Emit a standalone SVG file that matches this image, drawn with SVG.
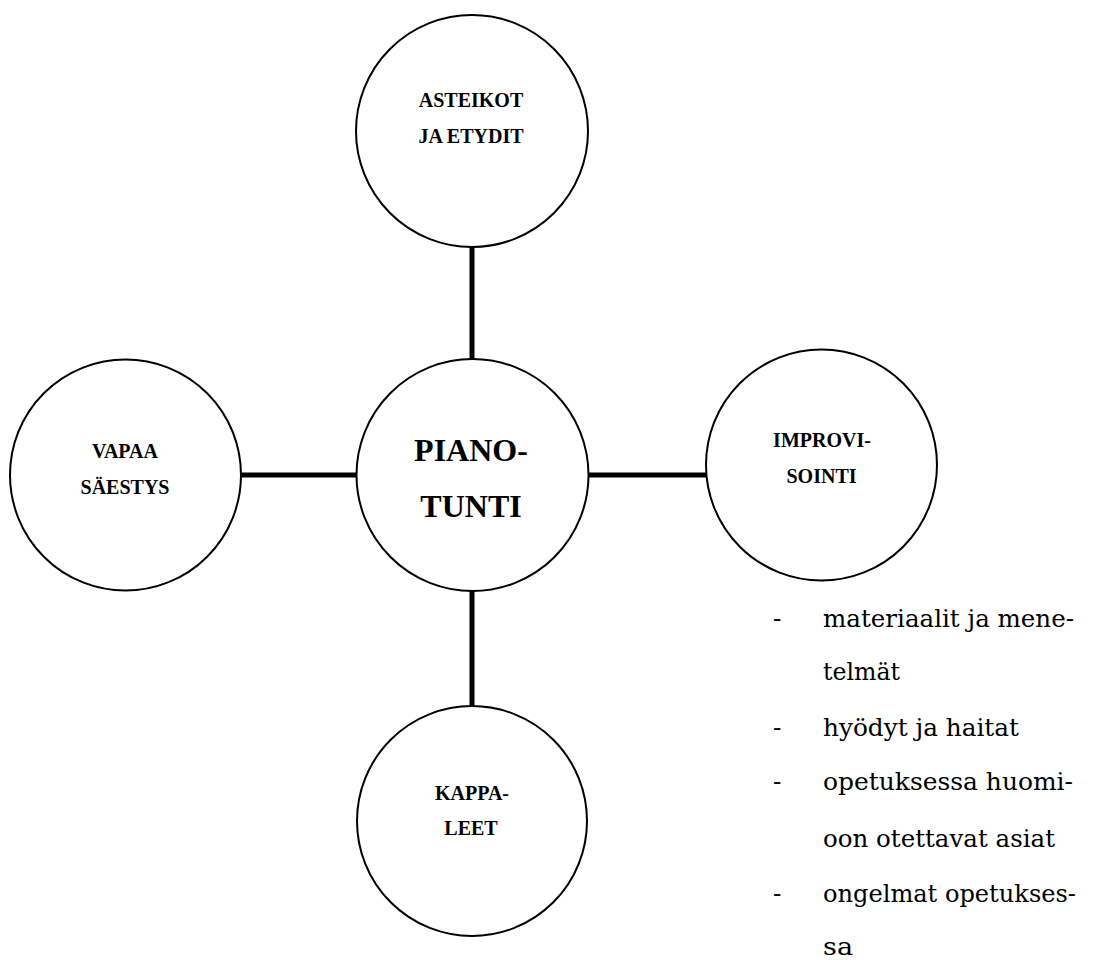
<svg xmlns="http://www.w3.org/2000/svg" width="1096" height="960" viewBox="0 0 1096 960">
<style>
.c{fill:#fff;stroke:#000;stroke-width:2}
.l{font-family:'Liberation Serif',serif;font-weight:bold;font-size:20px;text-anchor:middle;fill:#000}
.big{font-size:32px}
.t{font-family:'DejaVu Serif',serif;font-weight:400;font-size:25px;fill:#000}
.e{stroke:#000;stroke-width:5}
</style>
<rect width="1096" height="960" fill="#fff"/>
<g id="connectors">
<line class="e" x1="472" y1="247" x2="472" y2="360"/>
<line class="e" x1="472" y1="590" x2="472" y2="707"/>
<line class="e" x1="240" y1="475" x2="357" y2="475"/>
<line class="e" x1="588" y1="475" x2="707" y2="475"/>
</g>
<g id="asteikot">
<circle class="c" cx="472" cy="131" r="116"/>
<text class="l" x="471" y="107">ASTEIKOT</text>
<text class="l" x="471" y="143">JA ETYDIT</text>
</g>
<g id="pianotunti">
<circle class="c" cx="472.5" cy="475" r="116"/>
<text class="l big" x="471" y="461">PIANO-</text>
<text class="l big" x="471" y="517">TUNTI</text>
</g>
<g id="vapaa">
<circle class="c" cx="125.5" cy="475" r="115.5"/>
<text class="l" x="125" y="458">VAPAA</text>
<text class="l" x="125" y="494">SÄESTYS</text>
</g>
<g id="improvisointi">
<circle class="c" cx="821.5" cy="465" r="115.5"/>
<text class="l" x="822" y="447">IMPROVI-</text>
<text class="l" x="821.5" y="483">SOINTI</text>
</g>
<g id="kappaleet">
<circle class="c" cx="472" cy="821" r="115"/>
<text class="l" x="472" y="800">KAPPA-</text>
<text class="l" x="471" y="835">LEET</text>
</g>
<g id="list">
<text class="t" x="773" y="627">-</text>
<text class="t" x="823" y="627" textLength="251" lengthAdjust="spacingAndGlyphs">materiaalit ja mene-</text>
<text class="t" x="823" y="680" textLength="77" lengthAdjust="spacingAndGlyphs">telmät</text>
<text class="t" x="773" y="736">-</text>
<text class="t" x="823" y="736" textLength="196" lengthAdjust="spacingAndGlyphs">hyödyt ja haitat</text>
<text class="t" x="773" y="790">-</text>
<text class="t" x="823" y="790" textLength="250" lengthAdjust="spacingAndGlyphs">opetuksessa huomi-</text>
<text class="t" x="823" y="847" textLength="232" lengthAdjust="spacingAndGlyphs">oon otettavat asiat</text>
<text class="t" x="773" y="902">-</text>
<text class="t" x="823" y="902" textLength="253" lengthAdjust="spacingAndGlyphs">ongelmat opetukses-</text>
<text class="t" x="823" y="955" textLength="30" lengthAdjust="spacingAndGlyphs">sa</text>
</g>
</svg>
